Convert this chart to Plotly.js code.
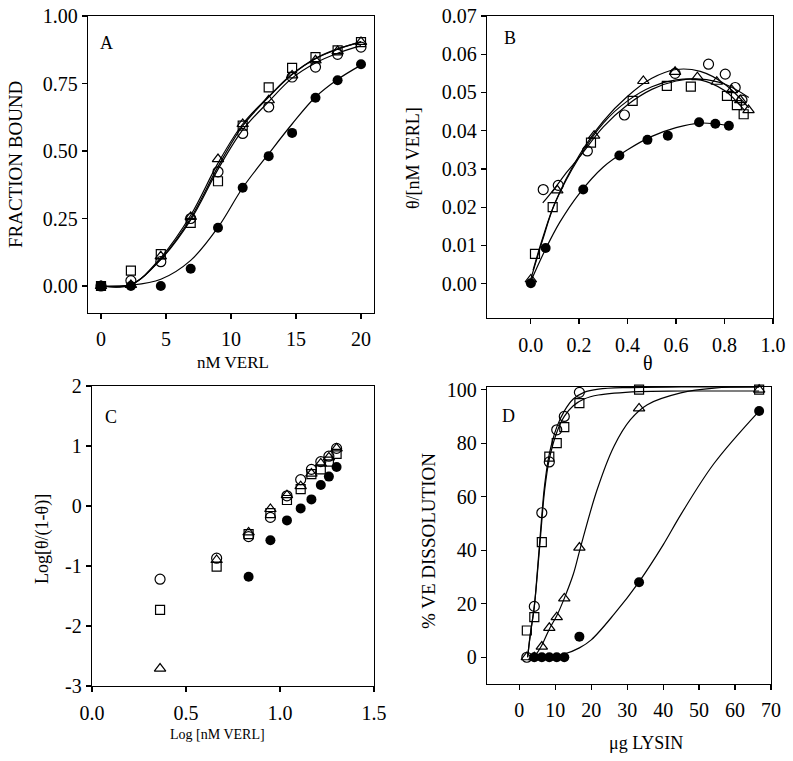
<!DOCTYPE html>
<html>
<head>
<meta charset="utf-8">
<script src="https://cdn.plot.ly/plotly-3.0.1.min.js"></script>
<style>html,body{margin:0;padding:0;background:#fff;}#chart{width:793px;height:761px;}</style>
</head>
<body>
<div id="chart"></div>
<script>
// ---------- Panel A: fraction bound vs nM VERL ----------
const aX = [0, 2.3, 4.6, 6.9, 9.0, 10.9, 12.9, 14.7, 16.5, 18.2, 20.0];
const aSquare = [0, 0.057, 0.118, 0.234, 0.388, 0.594, 0.736, 0.808, 0.848, 0.873, 0.903];
const aCircle = [0, 0.020, 0.090, 0.250, 0.423, 0.565, 0.663, 0.774, 0.811, 0.858, 0.885];
const aTriangle = [0, 0.004, 0.110, 0.256, 0.470, 0.600, 0.688, 0.780, 0.836, 0.870, 0.904];
const aFilledX = [0, 2.3, 4.6, 6.9, 9.0, 10.9, 12.9, 14.7, 16.5, 18.2, 20.0];
const aFilled = [0, 0, 0, 0.064, 0.216, 0.364, 0.481, 0.567, 0.697, 0.762, 0.821];
const aFitX = [0, 2.3, 4.6, 6.9, 9.0, 10.9, 12.9, 14.7, 16.5, 18.2, 20.0];
const aFitTriangle = [0, 0.004, 0.105, 0.262, 0.455, 0.600, 0.702, 0.785, 0.842, 0.877, 0.905];
const aFitSquare = [0, 0.005, 0.100, 0.252, 0.442, 0.593, 0.700, 0.783, 0.843, 0.878, 0.903];
const aFitCircle = [0, 0.006, 0.098, 0.245, 0.432, 0.578, 0.683, 0.770, 0.826, 0.862, 0.890];
const aFitFilled = [0, 0.003, 0.025, 0.095, 0.217, 0.364, 0.490, 0.600, 0.700, 0.765, 0.818];

// ---------- Panel B: theta/[nM VERL] vs theta ----------
const bCircleX = [0.052, 0.114, 0.234, 0.387, 0.596, 0.734, 0.803, 0.844, 0.872];
const bCircle = [0.0246, 0.0257, 0.0347, 0.0441, 0.0550, 0.0574, 0.0548, 0.0513, 0.0480];
const bSquareX = [0.018, 0.091, 0.249, 0.421, 0.562, 0.661, 0.810, 0.851, 0.879];
const bSquare = [0.0078, 0.0200, 0.0369, 0.0478, 0.0517, 0.0515, 0.0491, 0.0467, 0.0443];
const bTriangleX = [0.001, 0.110, 0.262, 0.465, 0.596, 0.688, 0.768, 0.830, 0.865, 0.899];
const bTriangle = [0.0011, 0.0244, 0.0387, 0.0530, 0.0554, 0.0540, 0.0528, 0.0506, 0.0480, 0.0454];
const bFilledX = [0.001, 0.062, 0.217, 0.366, 0.482, 0.566, 0.695, 0.762, 0.818];
const bFilled = [0.0001, 0.0093, 0.0246, 0.0335, 0.0376, 0.0387, 0.0422, 0.0418, 0.0413];
const bFitTriangleX = [0.0, 0.05, 0.1, 0.2, 0.3, 0.4, 0.5, 0.6, 0.7, 0.8, 0.9];
const bFitTriangle = [0.0010, 0.0115, 0.0210, 0.0335, 0.0425, 0.0490, 0.0537, 0.0560, 0.0555, 0.0522, 0.0460];
const bFitSquareX = [0.01, 0.05, 0.1, 0.2, 0.3, 0.4, 0.5, 0.6, 0.7, 0.8, 0.88];
const bFitSquare = [0.0035, 0.0120, 0.0210, 0.0330, 0.0420, 0.0478, 0.0515, 0.0533, 0.0533, 0.0505, 0.0455];
const bFitCircleX = [0.05, 0.1, 0.15, 0.2, 0.3, 0.4, 0.5, 0.6, 0.7, 0.8, 0.9];
const bFitCircle = [0.0211, 0.0250, 0.0292, 0.0330, 0.0410, 0.0468, 0.0508, 0.0530, 0.0535, 0.0522, 0.0487];
const bFitFilledX = [0.0, 0.06, 0.12, 0.2, 0.3, 0.4, 0.5, 0.6, 0.7, 0.82];
const bFitFilled = [0.0005, 0.0088, 0.0160, 0.0235, 0.0305, 0.0350, 0.0385, 0.0408, 0.0420, 0.0413];

// ---------- Panel C: Hill plot ----------
const cX = [0.362, 0.663, 0.833, 0.949, 1.037, 1.110, 1.167, 1.217, 1.260, 1.301];
const cCircle = [-1.22, -0.87, -0.51, -0.19, 0.17, 0.44, 0.61, 0.74, 0.83, 0.96];
const cSquare = [-1.73, -1.01, -0.47, -0.12, 0.10, 0.28, 0.53, 0.61, 0.74, 0.87];
const cTriangle = [-2.71, -0.90, -0.44, -0.05, 0.18, 0.33, 0.54, 0.71, 0.81, 0.96];
const cFilledX = [0.833, 0.949, 1.037, 1.110, 1.167, 1.217, 1.260, 1.301];
const cFilled = [-1.18, -0.57, -0.24, -0.04, 0.11, 0.35, 0.49, 0.65];

// ---------- Panel D: % VE dissolution vs ug lysin ----------
const dCircleX = [2.08, 4.16, 6.25, 8.33, 10.4, 12.5, 16.7];
const dCircle = [0, 19, 54, 73, 85, 90, 99];
const dSquareX = [2.08, 4.16, 6.25, 8.33, 10.4, 12.5, 16.7, 33.3, 66.7];
const dSquare = [10, 15, 43, 75, 80, 86, 95, 100, 100];
const dTriangleX = [2.08, 4.16, 6.25, 8.33, 10.4, 12.5, 16.7, 33.3, 66.7];
const dTriangle = [0, 0, 4, 11, 15, 22, 41, 93, 100];
const dFilledX = [4.16, 6.25, 8.33, 10.4, 12.5, 16.7, 33.3, 66.7];
const dFilled = [0, 0, 0, 0, 0, 7.7, 28, 92];
const dFitCircleX = [2.3, 3, 4.16, 5, 6.25, 7, 8.33, 10.4, 12.5, 15, 18, 22, 30, 45, 66.7];
const dFitCircle = [0, 8, 19, 32, 53, 64, 76, 86, 92, 96.5, 99, 100.2, 100.8, 101, 101];
const dFitSquareX = [2.3, 3, 4.16, 5, 6.25, 7, 8.33, 10.4, 12.5, 15, 18, 22, 33.3, 45, 66.7];
const dFitSquare = [0, 8, 19, 31, 51, 62, 74, 84, 90, 94, 96.5, 98, 99.3, 99.5, 99.5];
const dFitTriangleX = [4.16, 6.25, 8.33, 10.4, 12.5, 15, 17, 21.6, 26.3, 30.9, 35.6, 44.9, 54.2, 66.7];
const dFitTriangle = [0, 4.5, 10.5, 15.5, 22, 31, 41, 62.5, 78.8, 88.8, 94.4, 98.8, 100.6, 101];
const dFitFilledX = [4.16, 8.33, 12.5, 16.7, 20, 26.3, 33.3, 40, 45, 54.2, 66.7];
const dFitFilled = [0, 0.3, 1.2, 3.5, 6.5, 16, 28.2, 42, 53.5, 72.5, 92];

const FONT = 'Liberation Serif, Times New Roman, serif';
const W = 793, H = 761;
const lineStyle = {color: '#000', width: 1.2, shape: 'spline', smoothing: 1};
const mk = {
  circle: {symbol: 'circle-open', size: 10, color: '#000', line: {width: 1.2, color: '#000'}},
  square: {symbol: 'square-open', size: 9, color: '#000', line: {width: 1.2, color: '#000'}},
  triangle: {symbol: 'triangle-up-open', size: 10, color: '#000', line: {width: 1.2, color: '#000'}},
  filled: {symbol: 'circle', size: 10, color: '#000', line: {width: 0, color: '#000'}}
};
function pts(x, y, m, xa, ya) {
  return {type: 'scatter', mode: 'markers', x: x, y: y, marker: m, xaxis: xa, yaxis: ya, cliponaxis: false, hoverinfo: 'skip'};
}
function fit(x, y, xa, ya) {
  return {type: 'scatter', mode: 'lines', x: x, y: y, line: lineStyle, xaxis: xa, yaxis: ya, hoverinfo: 'skip'};
}

const traces = [
  fit(aFitX, aFitTriangle, 'x', 'y'),
  fit(aFitX, aFitSquare, 'x', 'y'),
  fit(aFitX, aFitCircle, 'x', 'y'),
  fit(aFitX, aFitFilled, 'x', 'y'),
  pts(aFilledX, aFilled, mk.filled, 'x', 'y'),
  pts(aX, aCircle, mk.circle, 'x', 'y'),
  pts(aX, aSquare, mk.square, 'x', 'y'),
  pts(aX, aTriangle, mk.triangle, 'x', 'y'),

  fit(bFitTriangleX, bFitTriangle, 'x2', 'y2'),
  fit(bFitSquareX, bFitSquare, 'x2', 'y2'),
  fit(bFitCircleX, bFitCircle, 'x2', 'y2'),
  fit(bFitFilledX, bFitFilled, 'x2', 'y2'),
  pts(bFilledX, bFilled, mk.filled, 'x2', 'y2'),
  pts(bCircleX, bCircle, mk.circle, 'x2', 'y2'),
  pts(bSquareX, bSquare, mk.square, 'x2', 'y2'),
  pts(bTriangleX, bTriangle, mk.triangle, 'x2', 'y2'),

  pts(cFilledX, cFilled, mk.filled, 'x3', 'y3'),
  pts(cX, cCircle, mk.circle, 'x3', 'y3'),
  pts(cX, cSquare, mk.square, 'x3', 'y3'),
  pts(cX, cTriangle, mk.triangle, 'x3', 'y3'),

  fit(dFitCircleX, dFitCircle, 'x4', 'y4'),
  fit(dFitSquareX, dFitSquare, 'x4', 'y4'),
  fit(dFitTriangleX, dFitTriangle, 'x4', 'y4'),
  fit(dFitFilledX, dFitFilled, 'x4', 'y4'),
  pts(dFilledX, dFilled, mk.filled, 'x4', 'y4'),
  pts(dCircleX, dCircle, mk.circle, 'x4', 'y4'),
  pts(dSquareX, dSquare, mk.square, 'x4', 'y4'),
  pts(dTriangleX, dTriangle, mk.triangle, 'x4', 'y4')
];

function px(x) { return x / W; }
function py(y) { return 1 - y / H; }
function axis(dom, range, tickvals, ticktext, anchor, extra) {
  return Object.assign({
    domain: dom, range: range, tickvals: tickvals, ticktext: ticktext, anchor: anchor,
    showline: true, mirror: true, linecolor: '#000', linewidth: 1.3,
    ticks: 'outside', ticklen: 5, tickwidth: 1.2, tickcolor: '#000',
    showgrid: false, zeroline: false, fixedrange: true,
    tickfont: {family: FONT, size: 20, color: '#000'}
  }, extra || {});
}
function label(text, x, y, size, angle) {
  const a = {text: text, x: px(x), y: py(y), xref: 'paper', yref: 'paper', xanchor: 'center', yanchor: 'middle',
    showarrow: false, font: {family: FONT, size: size, color: '#000'}};
  if (angle) a.textangle = angle;
  return a;
}

const layout = {
  width: W, height: H,
  margin: {l: 0, r: 0, t: 0, b: 0},
  paper_bgcolor: '#fff', plot_bgcolor: '#fff',
  showlegend: false,
  font: {family: FONT, color: '#000'},
  xaxis: axis([px(88), px(374)], [-1, 21], [0, 5, 10, 15, 20], ['0', '5', '10', '15', '20'], 'y', {ticklabelstandoff: 3}),
  yaxis: axis([py(313), py(16)], [-0.1, 1.0], [0, 0.25, 0.5, 0.75, 1.0], ['0.00', '0.25', '0.50', '0.75', '1.00'], 'x'),
  xaxis2: axis([px(487), px(773)], [-0.18, 1.0], [0, 0.2, 0.4, 0.6, 0.8, 1.0], ['0.0', '0.2', '0.4', '0.6', '0.8', '1.0'], 'y2', {ticklabelstandoff: 4}),
  yaxis2: axis([py(318), py(16)], [-0.009, 0.07], [0, 0.01, 0.02, 0.03, 0.04, 0.05, 0.06, 0.07], ['0.00', '0.01', '0.02', '0.03', '0.04', '0.05', '0.06', '0.07'], 'x2'),
  xaxis3: axis([px(92), px(374)], [0, 1.5], [0, 0.5, 1.0, 1.5], ['0.0', '0.5', '1.0', '1.5'], 'y3', {ticklabelstandoff: 4}),
  yaxis3: axis([py(686), py(386)], [-3, 2], [-3, -2, -1, 0, 1, 2], ['-3', '-2', '-1', '0', '1', '2'], 'x3'),
  xaxis4: axis([px(487), px(771)], [-9, 70], [0, 10, 20, 30, 40, 50, 60, 70], ['0', '10', '20', '30', '40', '50', '60', '70'], 'y4', {ticklabelstandoff: 3}),
  yaxis4: axis([py(684), py(387)], [-10, 101], [0, 20, 40, 60, 80, 100], ['0', '20', '40', '60', '80', '100'], 'x4'),
  annotations: [
    label('A', 106, 43, 18),
    label('B', 510, 38, 18),
    label('C', 111, 417, 18),
    label('D', 508, 416, 18),
    label('nM VERL', 233, 362, 17),
    label('FRACTION BOUND', 16, 165, 19, -90),
    label('θ', 648, 363, 20),
    label('θ/[nM VERL]', 413, 158, 18, -90),
    label('Log [nM VERL]', 217, 734, 14),
    label('Log[θ/(1-θ)]', 42, 539, 18, -90),
    label('μg LYSIN', 646, 743, 18),
    label('% VE DISSOLUTION', 428, 541, 19, -90)
  ]
};

Plotly.newPlot('chart', traces, layout, {staticPlot: true, displayModeBar: false});
</script>
</body>
</html>
